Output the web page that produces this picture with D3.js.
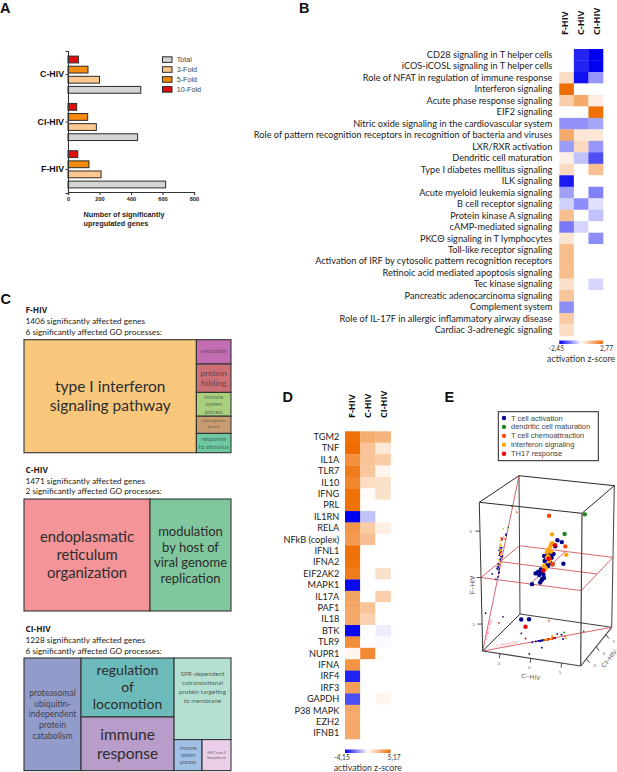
<!DOCTYPE html>
<html><head><meta charset="utf-8">
<script src="https://cdn.jsdelivr.net/npm/d3@7"></script>
<style>html,body{margin:0;padding:0;background:#fff}svg{display:block}text{font-family:Lato,"Open Sans",sans-serif}</style>
</head><body><svg id="c" width="617" height="772"></svg>
<script>
// ---------- Panel A data
const barCategories=["C-HIV","CI-HIV","F-HIV"];
const barSeries=["10-Fold","5-Fold","3-Fold","Total"];
const legendOrder=["Total","3-Fold","5-Fold","10-Fold"];
const total=[462,442,620], fold3=[200,180,210], fold5=[127,125,133], fold10=[66,55,62];
const barTicks=[0,200,400,600,800];
// ---------- Panel B data
const conditions=["F-HIV","C-HIV","CI-HIV"];
const pathways=["CD28 signaling in T helper cells","iCOS-iCOSL signaling in T helper cells","Role of NFAT in regulation of immune response","Interferon signaling","Acute phase response signaling","EIF2 signaling","Nitric oxide signaling in the cardiovascular system","Role of pattern recognition receptors in recognition of bacteria and viruses","LXR/RXR activation","Dendritic cell maturation","Type I diabetes mellitus signaling","ILK signaling","Acute myeloid leukemia signaling","B cell receptor signaling","Protein kinase A signaling","cAMP-mediated signaling","PKC\u0398 signaling in T lymphocytes","Toll-like receptor signaling","Activation of IRF by cytosolic pattern recognition receptors","Retinoic acid mediated apoptosis signaling","Tec kinase signaling","Pancreatic adenocarcinoma signaling","Complement system","Role of IL-17F in allergic inflammatory airway disease","Cardiac 3-adrenegic signaling"];
const pathF=[null,null,0.65,2.77,0.95,null,-1.05,1.6,-0.95,0.3,0.7,-2.2,-0.9,-0.45,1.2,-1.3,0.5,1.25,1.25,1.25,0.6,1.1,-1.1,1.0,0.65];
const pathC=[-2.1,-2.1,-2.3,null,1.6,null,-1.05,0.45,0.7,-0.6,null,null,null,-1.1,null,-0.4,null,null,null,null,null,null,null,null,null];
const pathCI=[-2.45,-2.45,-1.0,null,0.35,2.7,-0.85,0.45,-1.0,-1.7,1.2,null,-1.2,-0.3,-0.6,null,-1.1,null,null,null,-0.4,null,null,null,null];
// ---------- Panel C data
const fHeader=["F-HIV","1406 significantly affected genes","6 significantly affected GO processes:"];
const cHeader=["C-HIV","1471 significantly affected genes","2 significantly affected GO processes:"];
const ciHeader=["CI-HIV","1228 significantly affected genes","6 significantly affected GO processes:"];
const fTerms=["type I interferon|signaling pathway","metabolism","protein|folding","immune|system|process","multi organism|process","response|to stimulus"];
const fAreas=[19436,840,980,822,595,665];
const cTerms=["endoplasmatic|reticulum|organization","modulation|by host of|viral genome|replication"];
const cAreas=[126,81];
const ciTerms=["proteasomal|ubiquitin-|independent|protein|catabolism","regulation|of|locomotion","immune|response","SPR-dependent|cotranslational|protein targeting|to membrane","immune|system|process","MHC class II|biosynthesis"];
const ciAreas=[6418,5487,4985,4645,868,899];
// ---------- Panel D data
const regulators=["TGM2","TNF","IL1A","TLR7","IL10","IFNG","PRL","IL1RN","RELA","NFkB (coplex)","IFNL1","IFNA2","EIF2AK2","MAPK1","IL17A","PAF1","IL18","BTK","TLR9","NUPR1","IFNA","IRF4","IRF3","GAPDH","P38 MAPK","EZH2","IFNB1"];
const regF=[5.0,5.17,3.9,4.6,4.2,5.0,5.0,-4.15,3.7,3.5,5.0,4.9,4.6,-4.0,3.2,3.1,3.0,-4.0,4.0,0.3,3.8,-3.6,3.4,-2.9,3.0,3.0,3.0];
const regC=[2.9,2.1,2.1,2.0,1.2,0.15,null,-1.0,1.8,2.2,null,null,null,null,null,2.1,1.6,null,null,4.1,null,null,null,null,null,null,null];
const regCI=[2.6,0.8,1.8,0.35,1.1,1.1,null,null,0.6,null,null,null,1.1,null,1.7,null,null,-0.3,-0.1,null,null,null,null,0.3,null,null,null];
// ---------- Panel E data: [C-HIV, CI-HIV, F-HIV]
const scatterTypes=["T cell activation","dendritic cell maturation","T cell chemoattraction","interferon signaling","TH17 response"];
const tCellActivation=[[-1.9,-1.9,-1.54],[-1.5,-1.4,-.44],[-1.2,-1.1,-.31],[-.9,-1.0,-1.48],[-.65,-.7,-1.1],[-.86,-.8,-.08],[-.45,-.5,-1.06],[-.12,-.1,.3],[-.24,-.2,.95],[-.45,-.4,1.34],[.29,.3,1.29],[.69,.7,1.41],[.45,.5,1.02],[.04,0,.2],[.68,2.5,2.54],[1.4,2.5,2.4],[.9,.9,2.25],[-.53,-.5,-.69],[-1.06,-1.0,-.68],[.29,.3,.52],[.57,.6,.3],[-.37,-.4,.8],[.04,0,1.54],[-.73,-.7,-.45],[-4.75,.8,-6.35],[-.8,-6.4,-4.2],[.2,-3.4,-.6],[2.2,1.0,.4]];
const dendriticMaturation=[[1.5,3.5,3.1],[4.3,5,5.2],[-.5,-.5,-.2]];
const tCellChemoattraction=[[2.12,2.1,2.07],[.57,.6,.3],[.45,.5,2.54],[-2.4,7,4.1],[.2,.2,1.0]];
const interferonSignaling=[[.22,1.5,2.4],[.29,.3,2.28],[.04,0,1.96],[-.12,-.1,1.71],[.37,.4,1.74],[.16,.2,.71],[-.24,-.2,-.04],[-.45,-.4,.28],[.04,.1,1.26],[-.12,-.1,1.11],[2.5,1.5,1.3],[.2,1.4,3.4]];
const th17Response=[[.86,.9,2.37],[.08,.1,.97],[-.53,-.5,-.24],[-3.4,-.9,-6.6]];
const axisTicks3d=[-5,0,5];

const svg=d3.select("#c");
const arial='"Liberation Sans",Arial,sans-serif';
function letter(t,x,y){svg.append("text").attr("x",x).attr("y",y).attr("font-size",14.5).attr("font-weight",700).attr("fill","#111").style("font-family",arial).text(t);}
letter("A",0,13.3);letter("B",299,13.3);letter("C",0.5,303.5);letter("D",282.5,402);letter("E",444.5,402);

// ---------- A
(function(){
 const x=d3.scaleLinear().domain([0,800]).range([68,194]);
 const y=d3.scaleBand().domain(barCategories).range([51,193]);
 const inner=d3.scaleBand().domain(barSeries).range([0,y.bandwidth()]).paddingInner(.327).paddingOuter(.505);
 const vals={"Total":total,"3-Fold":fold3,"5-Fold":fold5,"10-Fold":fold10};
 const col=d3.scaleOrdinal().domain(legendOrder).range(["#d4d4d4","#fdc890","#f68b0b","#e20c0c"]);
 const g=svg.append("g");
 barSeries.forEach(s=>{
  g.selectAll(null).data(barCategories).join("rect")
   .attr("x",x(0)).attr("y",c=>y(c)+inner(s)).attr("height",inner.bandwidth())
   .attr("width",(c,i)=>x(vals[s][i])-x(0)).attr("fill",col(s)).attr("stroke","#2b2b2b").attr("stroke-width",1);
 });
 const ax=g.append("g").attr("transform","translate(0,192)").call(d3.axisBottom(x).tickValues(barTicks).tickSize(3).tickPadding(2.5));
 ax.selectAll("text").attr("font-size",5.6).attr("font-weight",700).attr("fill","#222").style("font-family",arial);
 const ay=g.append("g").attr("transform","translate(68,0)").call(d3.axisLeft(y).tickSize(2.5).tickPadding(1.5));
 ay.selectAll("text").attr("font-size",8.8).attr("font-weight",700).attr("fill","#111").style("font-family",arial);
 g.selectAll(".domain,.tick line").attr("stroke","#333").attr("stroke-width",1.1);
 const lg=g.append("g");
 const ly=d3.scaleBand().domain(legendOrder).range([55.3,95]);
 legendOrder.forEach(s=>{
  lg.append("rect").attr("x",162.5).attr("y",ly(s)+1.5).attr("width",9.5).attr("height",5.6).attr("fill",col(s)).attr("stroke","#2b2b2b").attr("stroke-width",1);
  lg.append("text").attr("x",176.7).attr("y",ly(s)+7).attr("font-size",7.2).attr("fill","#444").style("font-family",arial).text(s);
 });
 ["Number of significantly","upregulated genes"].forEach((t,i)=>g.append("text").attr("x",83.5).attr("y",217+i*9.2).attr("font-size",7.3).attr("font-weight",700).attr("fill","#222").style("font-family",arial).text(t));
})();

// ---------- heatmaps
function heatmap(o){
 const x=d3.scaleBand().domain(conditions).range(o.xr);
 const y=d3.scaleBand().domain(o.rows).range(o.yr);
 const color=d3.scaleLinear().domain([o.min,0,o.max]).range(["#0000f0","#ffffff","#ee6c00"]);
 const g=svg.append("g");
 conditions.forEach((c,k)=>{
  g.selectAll(null).data(o.rows).join("rect").attr("x",x(c)).attr("y",r=>y(r)).attr("width",x.bandwidth()+.3).attr("height",y.bandwidth()+.3)
   .attr("fill",(r,i)=>o.vals[k][i]==null?"#fff":color(o.vals[k][i]));
  g.append("text").attr("transform",`translate(${o.hx[k]},${o.hy}) rotate(-90)`).attr("font-size",9).attr("font-weight",700).attr("fill","#111").style("font-family","'Open Sans'").text(c);
 });
 g.selectAll(null).data(o.rows).join("text").attr("x",o.lx).attr("y",r=>y(r)+y.bandwidth()/2+3.1+o.ldy).attr("text-anchor","end").attr("font-size",o.fs).attr("fill","#222").text(r=>r);
 const id="grad"+o.id;
 const lg=svg.append("defs").append("linearGradient").attr("id",id);
 [0,.25,.5,.75,1].forEach(t=>lg.append("stop").attr("offset",t).attr("stop-color",t<.5?color(o.min*(1-2*t)):color(o.max*(2*t-1))));
 g.append("rect").attr("x",o.xr[0]).attr("y",o.by).attr("width",o.xr[1]-o.xr[0]).attr("height",3.5).attr("fill",`url(#${id})`);
 g.append("text").attr("x",o.xr[0]-3).attr("y",o.by+10.3).attr("text-anchor","middle").attr("font-size",6.6).attr("fill","#333").text(o.minT);
 g.append("text").attr("x",o.xr[1]+3.5).attr("y",o.by+10.3).attr("text-anchor","middle").attr("font-size",6.6).attr("fill","#333").text(o.maxT);
 g.append("text").attr("x",(o.xr[0]+o.xr[1])/2).attr("y",o.by+21).attr("text-anchor","middle").attr("font-size",8.8).attr("fill","#333").text("activation z-score");
}
heatmap({id:"B",rows:pathways,vals:[pathF,pathC,pathCI],min:-2.45,max:2.77,xr:[559.3,603],yr:[49,336],lx:552.3,ldy:0,fs:9.2,hx:[567.8,584,600],hy:35,by:340.5,minT:"-2,45",maxT:"2,77"});
heatmap({id:"D",rows:regulators,vals:[regF,regC,regCI],min:-4.15,max:5.17,xr:[345,390.6],yr:[431.3,739],lx:339.3,ldy:0,fs:9.2,hx:[355,370.5,387],hy:418,by:749.5,minT:"-4,15",maxT:"5,17"});

// ---------- C treemaps
function header(lines,y0){
 lines.forEach((t,i)=>svg.append("text").attr("x",25.5).attr("y",y0+[0,11,21.5][i]).attr("font-size",8.3).attr("font-weight",i?400:700).attr("fill","#222").style("font-family",i?"Lato":"'Open Sans'").text(t));
}
function treemapPanel(tree,x0,y0,w,h,styleFor){
 const root=d3.hierarchy(tree).sum(d=>d.value||0);
 d3.treemap().size([w,h]).tile(d3.treemapSliceDice).round(false)(root);
 const g=svg.append("g").attr("transform",`translate(${x0},${y0})`);
 root.leaves().forEach(n=>{
  const s=styleFor[n.data.name];
  g.append("rect").attr("x",n.x0).attr("y",n.y0).attr("width",n.x1-n.x0).attr("height",n.y1-n.y0).attr("fill",s.fill).attr("stroke","#333").attr("stroke-width",1.1);
  const lines=n.data.name.split("|");
  const first=(n.y0+n.y1)/2+(s.dy||0)-(lines.length-1)*s.lh/2+.35*s.fs;
  lines.forEach((t,i)=>g.append("text").attr("x",(n.x0+n.x1)/2).attr("y",first+i*s.lh).attr("text-anchor","middle").attr("font-size",s.fs).attr("fill",s.tc||"#2c2c2c").attr("fill-opacity",s.op||1).text(t));
 });
}
header(fHeader,313);
treemapPanel({children:[{name:fTerms[0],value:fAreas[0]},{children:fTerms.slice(1).map((n,i)=>({name:n,value:fAreas[i+1]}))}]},24,339.7,207,113,{
 [fTerms[0]]:{fill:"#f9c77c",fs:15.5,lh:19,dy:-.6},
 [fTerms[1]]:{fill:"#c26db1",fs:5.2,lh:6,dy:-1,op:.65},
 [fTerms[2]]:{fill:"#cd7076",fs:8.4,lh:10,op:.7},
 [fTerms[3]]:{fill:"#a8d07f",fs:5.4,lh:7.5,op:.65},
 [fTerms[4]]:{fill:"#c99b70",fs:3.7,lh:6,dy:-1,op:.65},
 [fTerms[5]]:{fill:"#6ec9a3",fs:6.3,lh:7.5,dy:-.5,op:.65}
});
header(cHeader,472.7);
treemapPanel({children:cTerms.map((n,i)=>({name:n,value:cAreas[i]}))},24,499,207,112,{
 [cTerms[0]]:{fill:"#f59498",fs:14.8,lh:18.3},
 [cTerms[1]]:{fill:"#80c79d",fs:13,lh:15.5}
});
header(ciHeader,632);
treemapPanel({children:[{name:ciTerms[0],value:ciAreas[0]},{children:[{name:ciTerms[1],value:ciAreas[1]},{name:ciTerms[2],value:ciAreas[2]}]},{children:[{name:ciTerms[3],value:ciAreas[3]},{children:[{name:ciTerms[4],value:ciAreas[4]},{name:ciTerms[5],value:ciAreas[5]}]}]}]},24,658,207,112.6,{
 [ciTerms[0]]:{fill:"#929cca",fs:8.6,lh:10.7,op:.85},
 [ciTerms[1]]:{fill:"#6cbab9",fs:14,lh:17},
 [ciTerms[2]]:{fill:"#b89dcb",fs:15.5,lh:19},
 [ciTerms[3]]:{fill:"#b3e0d1",fs:6.4,lh:8.7,dy:-11.5,op:.75},
 [ciTerms[4]]:{fill:"#a1c0e6",fs:4.8,lh:7.1,op:.75},
 [ciTerms[5]]:{fill:"#ebcfe8",fs:3.4,lh:5,op:.75}
});

// ---------- E 3D
(function(){
 const C=d3.scaleLinear().domain([-7.8,8.1]).range([0,1]);
 const I=d3.scaleLinear().domain([-8,8]).range([0,1]);
 const F=d3.scaleLinear().domain([-7.9,8.1]).range([0,1]);
 const corner={b00:[482.7,651],b10:[580.7,666],b01:[520,614],b11:[611.7,627.3],t00:[479.3,502.3],t10:[582,513.3],t01:[519,475.7],t11:[614.3,485.7]};
 function proj(c,i,f){
  const u=C(c),v=I(i),w=F(f);
  return [0,1].map(k=>{
   const b=(1-v)*((1-u)*corner.b00[k]+u*corner.b10[k])+v*((1-u)*corner.b01[k]+u*corner.b11[k]);
   const t=(1-v)*((1-u)*corner.t00[k]+u*corner.t10[k])+v*((1-u)*corner.t01[k]+u*corner.t11[k]);
   return (1-w)*b+w*t;
  });
 }
 const [c0,c1]=C.domain(),[i0,i1]=I.domain(),[f0,f1]=F.domain();
 const g=svg.append("g");
 const line=(a,b,col,w)=>{const p=proj(...a),q=proj(...b);g.append("line").attr("x1",p[0]).attr("y1",p[1]).attr("x2",q[0]).attr("y2",q[1]).attr("stroke",col).attr("stroke-width",w);};
 const ink="#2a2a2a";
 line([c0,i1,f0],[c1,i1,f0],ink,.9);line([c0,i1,f0],[c0,i1,f1],ink,.9);line([c1,i1,f0],[c1,i1,f1],ink,.9);
 line([c0,i0,f0],[c0,i1,f0],"#111",.9);
 const red="#d2565e";
 [[[c0,i0,0],[c1,i0,0]],[[c1,i0,0],[c1,i1,0]],[[c1,i1,0],[c0,i1,0]],[[c0,i1,0],[c0,i0,0]],[[c0,0,0],[c1,0,0]],[[0,i0,0],[0,i1,0]],[[c0,i0,f0],[c0,i1,f1]],[[c0,i0,f0],[c1,i1,f0]]].forEach(s=>line(s[0],s[1],red,.9));
 const col=d3.scaleOrdinal().domain(scatterTypes).range(["#00008b","#1e8b22","#ff4500","#ffa500","#e8000b"]);
 const sets=[tCellActivation,dendriticMaturation,tCellChemoattraction,interferonSignaling,th17Response];
 scatterTypes.forEach((t,k)=>sets[k].forEach(d=>{
  const a=proj(c0,d[1],d[2]),b=proj(d[0],d[1],f0);
  g.append("circle").attr("cx",a[0]).attr("cy",a[1]).attr("r",.85).attr("fill",col(t));
  g.append("circle").attr("cx",b[0]).attr("cy",b[1]).attr("r",.95).attr("fill",col(t));
 }));
 scatterTypes.forEach((t,k)=>sets[k].forEach(d=>{
  const a=proj(d[0],d[1],d[2]);
  g.append("circle").attr("cx",a[0]).attr("cy",a[1]).attr("r",2.2).attr("fill",col(t));
 }));
 line([c0,i0,f0],[c1,i0,f0],"#444",1.1);line([c1,i0,f0],[c1,i1,f0],"#444",1.1);
 line([c0,i0,f0],[c0,i0,f1],"#333",1);line([c1,i0,f0],[c1,i0,f1],"#444",1.2);
 line([c0,i0,f1],[c1,i0,f1],ink,1);line([c1,i0,f1],[c1,i1,f1],ink,1);line([c1,i1,f1],[c0,i1,f1],ink,1);line([c0,i1,f1],[c0,i0,f1],ink,1);
 const tk=(p,dx,dy)=>g.append("line").attr("x1",p[0]).attr("y1",p[1]).attr("x2",p[0]+dx).attr("y2",p[1]+dy).attr("stroke","#333").attr("stroke-width",.9);
 const tl=(p,dx,dy,t)=>g.append("text").attr("x",p[0]+dx).attr("y",p[1]+dy).attr("text-anchor","middle").attr("font-size",4).attr("fill","#555").style("font-family",arial).text(t);
 axisTicks3d.forEach(t=>{
  let p=proj(t,i0,f0);tk(p,-.5,4.5);tl(p,-1.5,11,t);
  p=proj(c1,t,f0);tk(p,3,4);tl(p,8,8,t);
  p=proj(c0,i0,t);tk(p,-4.5,0);tl(p,-9,1.5,t);
 });
 const al=(x,y,r,t,fs,c)=>g.append("text").attr("transform",`translate(${x},${y}) rotate(${r})`).attr("text-anchor","middle").attr("font-size",fs).attr("fill",c).style("font-family",arial).text(t);
 al(475,585,-90,"F\u2212HIV",6.4,"#555");
 al(530.5,679,8,"C\u2212HIV",6.4,"#555");
 al(611,660,-52,"CI\u2212HIV",6.4,"#555");
 al(490,630,-76,"F-HIV=C-HIV",3.6,"#e0757c");
 al(507.5,645,-10,"C-HIV=CI-HIV",3.6,"#e0757c");
 g.append("rect").attr("x",498.3).attr("y",411.7).attr("width",100).attr("height",49).attr("fill","#fff").attr("stroke","#222").attr("stroke-width",1);
 const ly=d3.scalePoint().domain(scatterTypes).range([418,453.7]);
 scatterTypes.forEach(t=>{
  g.append("circle").attr("cx",504).attr("cy",ly(t)).attr("r",2.2).attr("fill",col(t));
  g.append("text").attr("x",511).attr("y",ly(t)+2.5).attr("font-size",7.5).attr("fill","#444").style("font-family",arial).text(t);
 });
})();
</script></body></html>
